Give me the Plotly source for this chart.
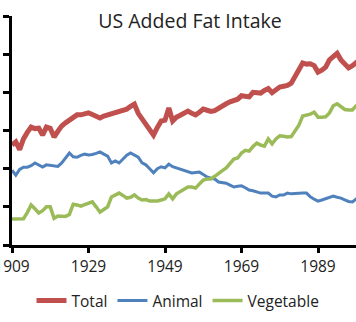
import plotly.graph_objects as go

years = list(range(1909, 2001))

total = [26.2, 27.0, 25.0, 27.8, 29.5, 30.9, 30.5, 30.6, 28.8, 30.9,
         30.6, 28.3, 29.8, 31.2, 32.0, 32.8, 33.5, 34.1, 34.1, 34.4,
         34.6, 34.2, 33.7, 33.3, 33.8, 34.1, 34.6, 34.8, 35.1, 35.4,
         35.6, 36.3, 36.9, 34.5, 33.0, 32.0, 30.5, 28.8, 30.8, 32.5,
         32.7, 35.9, 32.5, 33.5, 34.0, 34.5, 35.1, 34.5, 34.1, 34.8,
         35.6, 35.3, 35.0, 35.2, 35.9, 36.5, 37.0, 37.5, 37.8, 38.2,
         39.1, 39.0, 38.8, 40.0, 40.0, 39.8, 40.5, 41.0, 39.9, 40.6,
         41.4, 41.6, 41.8, 42.4, 44.2, 45.5, 47.7, 47.4, 47.5, 47.0,
         45.3, 45.8, 46.6, 48.5, 49.5, 50.2, 48.5, 47.3, 46.4, 47.0,
         47.9, 48.6]

animal = [19.6, 18.3, 19.8, 20.4, 20.4, 20.8, 21.5, 21.0, 20.4, 21.0,
          20.9, 20.8, 20.6, 21.5, 22.8, 24.1, 23.1, 23.0, 23.5, 23.8,
          23.6, 23.7, 24.0, 24.4, 23.8, 23.3, 21.5, 22.0, 21.5, 22.5,
          23.5, 24.1, 23.5, 23.0, 21.5, 21.0, 20.0, 18.9, 20.0, 20.5,
          20.2, 21.2, 20.5, 20.2, 19.8, 19.6, 19.4, 18.9, 19.0, 19.1,
          18.5, 17.8, 17.5, 17.3, 16.5, 16.4, 16.2, 15.7, 15.2, 15.4,
          15.5, 15.0, 14.4, 14.2, 13.9, 13.6, 13.6, 13.6, 12.8, 12.6,
          13.1, 13.1, 13.6, 13.4, 13.5, 13.6, 13.6, 13.6, 12.6, 12.0,
          11.5, 11.8, 12.1, 12.6, 12.8, 12.5, 12.3, 11.8, 11.4, 11.3,
          12.1, 12.3]

vegetable = [6.8, 6.8, 6.8, 6.9, 8.5, 10.5, 9.5, 8.4, 9.0, 10.0,
             10.0, 7.0, 7.6, 7.6, 7.5, 8.0, 10.7, 10.5, 10.2, 10.6,
             11.0, 11.3, 10.0, 8.6, 9.3, 10.0, 12.6, 13.0, 13.6, 13.0,
             12.3, 12.5, 13.1, 12.3, 11.8, 11.9, 11.5, 11.5, 11.5, 11.8,
             12.1, 13.4, 12.1, 13.4, 14.0, 14.8, 15.2, 15.2, 14.9, 16.0,
             17.0, 17.3, 17.3, 18.0, 18.9, 19.5, 20.2, 21.5, 22.5, 22.8,
             24.1, 24.8, 24.6, 25.8, 26.7, 26.2, 25.9, 27.8, 26.5, 27.8,
             28.6, 28.5, 28.3, 28.4, 30.0, 31.4, 33.8, 34.0, 34.3, 34.8,
             33.5, 33.5, 33.6, 34.6, 36.5, 37.0, 36.2, 35.5, 35.4, 35.4,
             36.5, 37.0]

tick_years = [1909, 1929, 1949, 1969, 1989]
tick_text = ["1909", "1929", "1949", "1969", "1989"]

FONT = "Open Sans"

fig = go.Figure()
fig.add_trace(go.Scatter(x=years, y=total, mode="lines", name="Total",
                         line=dict(color="#C0504D", width=5)))
fig.add_trace(go.Scatter(x=years, y=animal, mode="lines", name="Animal",
                         line=dict(color="#4F81BD", width=3)))
fig.add_trace(go.Scatter(x=years, y=vegetable, mode="lines", name="Vegetable",
                         line=dict(color="#9BBB59", width=3.5)))

fig.update_layout(
    width=356, height=322,
    margin=dict(l=12, r=0, t=16, b=77),
    paper_bgcolor="white", plot_bgcolor="white",
    font=dict(family=FONT, color="#222222"),
    title=dict(text="US Added Fat Intake", x=190/356, xanchor="center",
               y=1 - 21/322, yanchor="middle", automargin=False,
               font=dict(family=FONT, size=19.5, color="#222222")),
    showlegend=True,
    legend=dict(orientation="h", x=(178-12)/344, xanchor="center",
                y=-56/229, yanchor="middle",
                font=dict(family=FONT, size=15.5, color="#222222"),
                bgcolor="rgba(0,0,0,0)"),
    xaxis=dict(range=[1909, 1909 + 344/3.825], showgrid=False, zeroline=False,
               automargin=False,
               showline=True, linecolor="black", linewidth=3,
               ticks="outside", ticklen=5, tickwidth=3, tickcolor="black",
               tickmode="array", tickvals=tick_years, ticktext=tick_text,
               ticklabeloverflow="allow",
               tickfont=dict(family=FONT, size=15.5, color="#222222")),
    yaxis=dict(range=[0, 60], showgrid=False, zeroline=False,
               automargin=False,
               showline=True, linecolor="black", linewidth=3,
               ticks="outside", ticklen=6, tickwidth=3, tickcolor="black",
               dtick=10, showticklabels=False),
)

fig.write_html("out.html")
